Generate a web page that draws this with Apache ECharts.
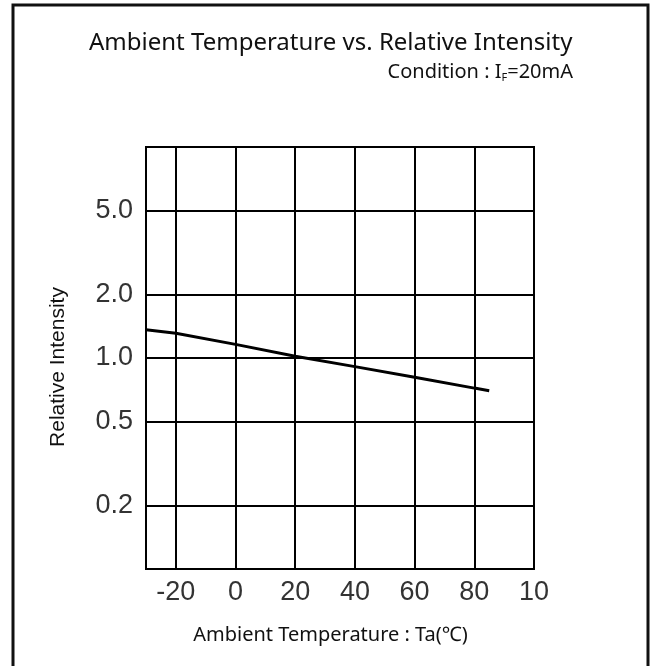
<!DOCTYPE html>
<html>
<head>
<meta charset="utf-8">
<script src="https://cdn.jsdelivr.net/npm/echarts@6/dist/echarts.min.js"></script>
<style>
  html, body { margin: 0; padding: 0; background: #fff; }
  #chart { width: 650px; height: 666px; }
</style>
</head>
<body>
<div id="chart"></div>
<script>
// temperature (°C) and relative intensity
const temps = [-30, -20, 0, 20, 40, 60, 80, 85];
const intensity = [1.36, 1.31, 1.16, 1.02, 0.91, 0.81, 0.72, 0.70];

const xTicks = [-20, 0, 20, 40, 60, 80, 100];
const yGrid = [0.2, 0.5, 1, 2, 5];
const yLabels = ['0.2', '0.5', '1.0', '2.0', '5.0'];

const chart = echarts.init(document.getElementById('chart'));

const tickFont = { fontFamily: 'Liberation Sans', fontSize: 27, color: '#333' };

chart.setOption({
  animation: false,
  backgroundColor: '#fff',
  title: [
    {
      text: 'Ambient Temperature vs. Relative Intensity',
      left: 84,
      top: 26,
      textStyle: { fontFamily: 'Noto Sans', fontSize: 24, fontWeight: 'normal', color: '#111' }
    },
    {
      text: 'Condition : I{sub|F}=20mA',
      right: 72,
      top: 57,
      textStyle: {
        fontFamily: 'Noto Sans', fontSize: 20, fontWeight: 'normal', color: '#111',
        rich: { sub: { fontFamily: 'Noto Sans', fontSize: 11, color: '#111', verticalAlign: 'bottom', padding: [10, 0, 0, 0] } }
      }
    }
  ],
  graphic: [
    {
      type: 'rect',
      shape: { x: 13, y: 5, width: 635, height: 670 },
      style: { fill: 'none', stroke: '#111', lineWidth: 3 },
      silent: true
    }
  ],
  grid: {
    left: 146,
    right: 116,
    top: 147,
    bottom: 97,
    show: true,
    borderColor: '#000',
    borderWidth: 2
  },
  xAxis: {
    type: 'value',
    min: -30,
    max: 100,
    name: 'Ambient Temperature : Ta(℃)',
    nameLocation: 'middle',
    nameGap: 56,
    nameTextStyle: { fontFamily: 'Noto Sans', fontSize: 20, color: '#111', padding: [0, 19, 0, 0] },
    axisLine: { show: true, lineStyle: { color: '#000', width: 2 } },
    axisTick: { show: false, customValues: xTicks },
    axisLabel: {
      customValues: xTicks,
      margin: 10,
      ...tickFont,
      formatter: (v) => (v === 100 ? '10' : String(v))
    },
    splitLine: { show: true, lineStyle: { color: '#000', width: 2 } }
  },
  yAxis: {
    type: 'log',
    min: 0.1,
    max: 10,
    name: 'Relative Intensity',
    nameLocation: 'middle',
    nameGap: 77,
    nameTextStyle: { fontFamily: 'Liberation Sans', fontSize: 21, color: '#111', padding: [0, 18, 0, 0] },
    axisLine: { show: true, lineStyle: { color: '#000', width: 2 } },
    axisTick: { show: false, customValues: yGrid },
    axisLabel: {
      customValues: yGrid,
      margin: 13,
      ...tickFont,
      formatter: (v) => {
        const i = yGrid.findIndex((g) => Math.abs(g - v) < 1e-6);
        return i >= 0 ? yLabels[i] : '';
      }
    },
    splitLine: { show: true, lineStyle: { color: '#000', width: 2 } }
  },
  series: [
    {
      type: 'line',
      data: temps.map((t, i) => [t, intensity[i]]),
      symbol: 'none',
      lineStyle: { color: '#000', width: 3 }
    }
  ]
});
</script>
</body>
</html>
